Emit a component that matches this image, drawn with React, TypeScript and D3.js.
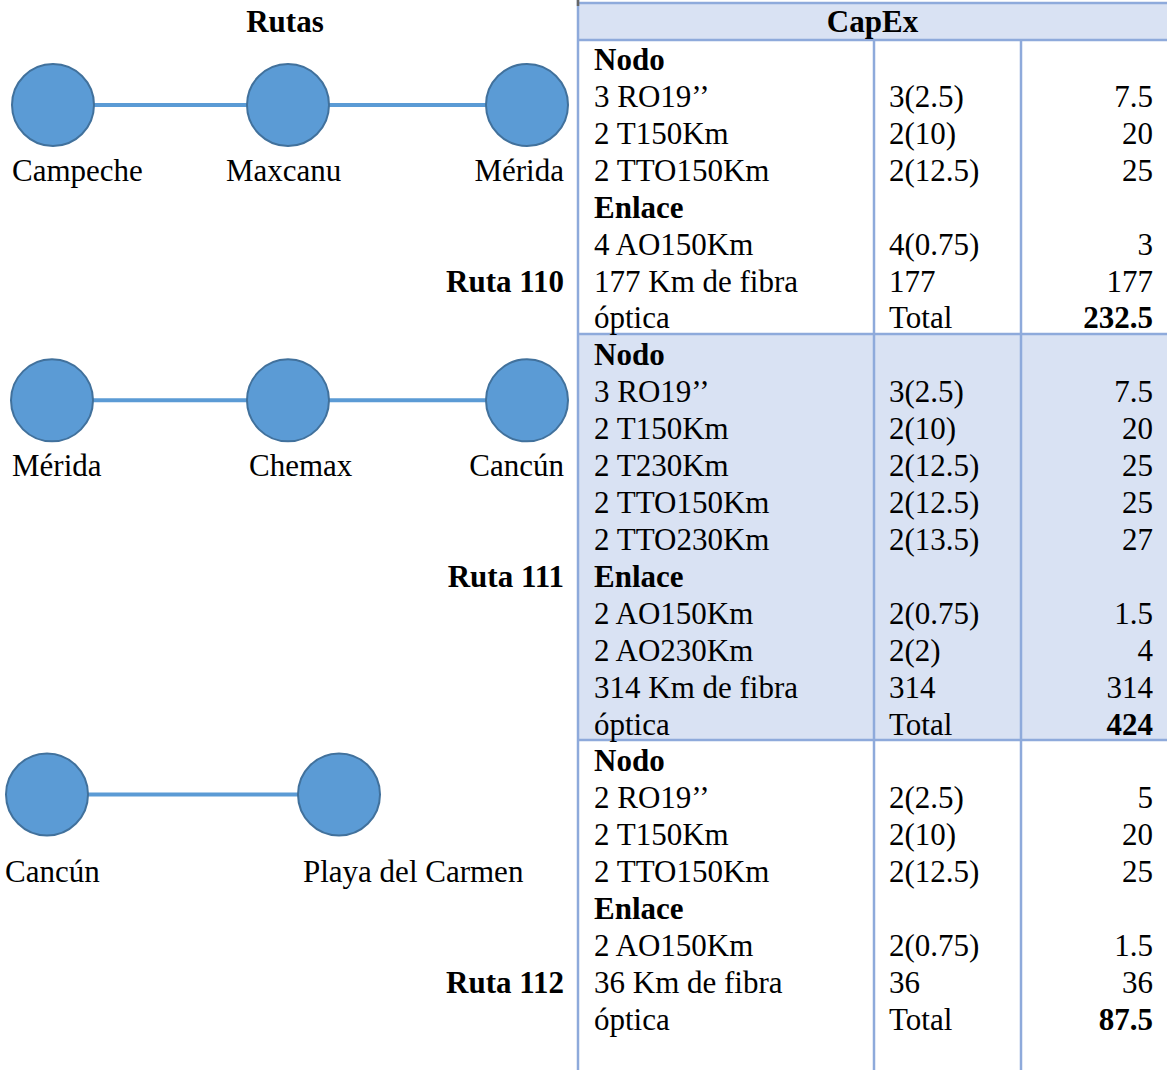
import React, { useEffect, useRef } from "react";
import * as d3 from "d3";

// ---- data ----
const routeNames = ["Ruta 110", "Ruta 111", "Ruta 112"];
const routeCities = [
  ["Campeche", "Maxcanu", "Mérida"],
  ["Mérida", "Chemax", "Cancún"],
  ["Cancún", "Playa del Carmen"],
];

const section110Items = ["Nodo", "3 RO19\u2019\u2019", "2 T150Km", "2 TTO150Km", "Enlace", "4 AO150Km", "177 Km de fibra", "óptica"];
const section110Qty = ["", "3(2.5)", "2(10)", "2(12.5)", "", "4(0.75)", "177", "Total"];
const section110Cost = ["", "7.5", "20", "25", "", "3", "177", "232.5"];

const section111Items = ["Nodo", "3 RO19\u2019\u2019", "2 T150Km", "2 T230Km", "2 TTO150Km", "2 TTO230Km", "Enlace", "2 AO150Km", "2 AO230Km", "314 Km de fibra", "óptica"];
const section111Qty = ["", "3(2.5)", "2(10)", "2(12.5)", "2(12.5)", "2(13.5)", "", "2(0.75)", "2(2)", "314", "Total"];
const section111Cost = ["", "7.5", "20", "25", "25", "27", "", "1.5", "4", "314", "424"];

const section112Items = ["Nodo", "2 RO19\u2019\u2019", "2 T150Km", "2 TTO150Km", "Enlace", "2 AO150Km", "36 Km de fibra", "óptica"];
const section112Qty = ["", "2(2.5)", "2(10)", "2(12.5)", "", "2(0.75)", "36", "Total"];
const section112Cost = ["", "5", "20", "25", "", "1.5", "36", "87.5"];

const boldItems = ["Nodo", "Enlace"];

// ---- layout ----
const W = 1167;
const H = 1070;
const FONT = "'Liberation Serif', 'Times New Roman', serif";
const FS = 31;
const BLUE = "#5b9bd5";
const BLUE_DARK = "#41719c";
const BORDER = "#8eaadb";
const SHADE = "#d9e2f3";

// circle layout per route (x positions, y offset from first row baseline, label anchors)
const routeLayout = [
  { xs: [53, 288, 527], dy: 35, labelX: [12, 226, 564], anchor: ["start", "start", "end"] },
  { xs: [52, 288, 527], dy: 35, labelX: [12, 249, 564], anchor: ["start", "start", "end"] },
  { xs: [47, 339], dy: 23, labelX: [5, 303], anchor: ["start", "start"] },
];
const routeNameRow = 6;
const cityLabelRow = 3;

export default function App() {
  const ref = useRef<SVGSVGElement>(null);

  useEffect(() => {
    const svg = d3.select(ref.current);
    svg.selectAll("*").remove();

    const sections = [
      { items: section110Items, qty: section110Qty, cost: section110Cost, shade: false },
      { items: section111Items, qty: section111Qty, cost: section111Cost, shade: true },
      { items: section112Items, qty: section112Qty, cost: section112Cost, shade: false },
    ];
    const totalRows = d3.sum(sections, (s) => s.items.length);
    const rowH = 36.92;
    const y = d3.scaleLinear().domain([0, totalRows - 1]).range([70, 70 + rowH * (totalRows - 1)]);

    const tableLeft = 578;
    const colX = [tableLeft, 874, 1021];
    const headerTop = 3;
    const headerBottom = 40;

    // starting row index for each section
    const starts: number[] = [];
    let acc = 0;
    sections.forEach((s) => {
      starts.push(acc);
      acc += s.items.length;
    });
    const sepY = (i: number) => y(i) - rowH / 2 - 13;

    // header background
    svg.append("rect").attr("x", tableLeft).attr("y", headerTop).attr("width", W - tableLeft).attr("height", headerBottom - headerTop).attr("fill", SHADE);

    // shaded section
    sections.forEach((s, si) => {
      if (!s.shade) return;
      const top = sepY(starts[si]);
      const bottom = sepY(starts[si] + s.items.length);
      svg.append("rect").attr("x", tableLeft).attr("y", top).attr("width", W - tableLeft).attr("height", bottom - top).attr("fill", SHADE);
    });

    const g = svg.append("g").attr("stroke", BORDER).attr("stroke-width", 2.5);
    g.append("line").attr("x1", tableLeft).attr("x2", W).attr("y1", headerTop).attr("y2", headerTop);
    g.append("line").attr("x1", tableLeft).attr("x2", W).attr("y1", headerBottom).attr("y2", headerBottom);
    g.append("line").attr("x1", tableLeft).attr("x2", tableLeft).attr("y1", 0).attr("y2", H);
    colX.slice(1).forEach((cx) => {
      g.append("line").attr("x1", cx).attr("x2", cx).attr("y1", headerBottom).attr("y2", H);
    });
    sections.slice(1).forEach((_, i) => {
      const yy = sepY(starts[i + 1]);
      g.append("line").attr("x1", tableLeft).attr("x2", W).attr("y1", yy).attr("y2", yy);
    });
    svg.append("line").attr("x1", tableLeft).attr("x2", tableLeft).attr("y1", 0).attr("y2", 6).attr("stroke", "#666").attr("stroke-width", 2.5);

    const text = (x: number, yy: number, t: string, anchor = "start", bold = false) =>
      svg
        .append("text")
        .attr("x", x)
        .attr("y", yy)
        .attr("text-anchor", anchor)
        .attr("font-family", FONT)
        .attr("font-size", FS)
        .attr("font-weight", bold ? "bold" : "normal")
        .attr("fill", "#000")
        .text(t);

    text(285, 32, "Rutas", "middle", true);
    text((tableLeft + W) / 2, 32, "CapEx", "middle", true);

    // table body
    sections.forEach((s, si) => {
      s.items.forEach((item, r) => {
        const yy = y(starts[si] + r);
        text(594, yy, item, "start", boldItems.includes(item));
        if (s.qty[r]) text(889, yy, s.qty[r]);
        if (s.cost[r]) text(1153, yy, s.cost[r], "end", r === s.items.length - 1);
      });
    });

    // routes
    routeCities.forEach((cities, ri) => {
      const lay = routeLayout[ri];
      const x = d3.scalePoint<string>().domain(cities).range([lay.xs[0], lay.xs[lay.xs.length - 1]]);
      const cx = (c: string, i: number) => (lay.xs[i] !== undefined ? lay.xs[i] : x(c)!);
      const cy = y(starts[ri]) + lay.dy;
      const rg = svg.append("g");
      const linePath = d3.line<string>().x((c, i) => cx(c, i)).y(() => cy);
      rg.append("path").attr("d", linePath(cities)).attr("stroke", BLUE).attr("stroke-width", 4).attr("fill", "none");
      rg.selectAll("circle")
        .data(cities)
        .enter()
        .append("circle")
        .attr("cx", (c, i) => cx(c, i))
        .attr("cy", cy)
        .attr("r", 41)
        .attr("fill", BLUE)
        .attr("stroke", BLUE_DARK)
        .attr("stroke-width", 2);
      cities.forEach((c, i) => {
        text(lay.labelX[i], y(starts[ri] + cityLabelRow), c, lay.anchor[i]);
      });
      text(564, y(starts[ri] + routeNameRow), routeNames[ri], "end", true);
    });
  }, []);

  return (
    <svg
      ref={ref}
      width={W}
      height={H}
      style={{ position: "absolute", left: 0, top: 0, background: "#fff" }}
    />
  );
}
